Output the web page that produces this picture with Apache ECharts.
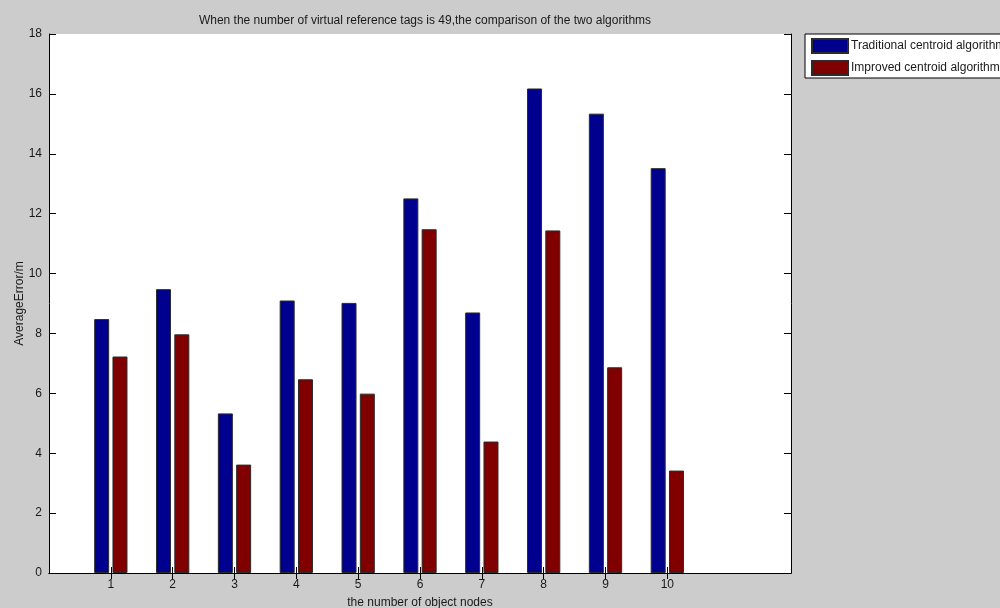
<!DOCTYPE html>
<html>
<head>
<meta charset="utf-8">
<script src="https://cdn.jsdelivr.net/npm/echarts@6/dist/echarts.min.js"></script>
<style>
  html, body { margin: 0; padding: 0; background: #cccccc; }
  #chart { width: 1000px; height: 608px; }
</style>
</head>
<body>
<div id="chart"></div>
<script>
// Object node indices shown on the x axis
const nodeLabels = ['1', '2', '3', '4', '5', '6', '7', '8', '9', '10'];
// Average localisation error (m) for each node
const traditionalError = [8.48, 9.48, 5.33, 9.10, 9.02, 12.51, 8.70, 16.18, 15.34, 13.52];
const improvedError = [7.23, 7.97, 3.62, 6.47, 5.99, 11.48, 4.39, 11.44, 6.87, 3.42];
// Y axis ticks
const yMin = 0, yMax = 18, yStep = 2;

const titleText = 'When the number of virtual reference tags is 49,the comparison of the two algorithms';
const seriesNames = ['Traditional centroid algorithm', 'Improved centroid algorithm'];

// The x axis spans 0..12: one empty slot before node 1 and two after node 10
const axisCats = [''].concat(nodeLabels, ['', '']);
const pad = arr => [null].concat(arr, [null, null]);
const isNode = i => i >= 1 && i <= nodeLabels.length;

const font = 'Liberation Sans, Arial, sans-serif';
const textColor = '#1a1a1a';

const baseX = {
  type: 'category',
  data: axisCats,
  boundaryGap: false,
  axisLine: { show: true, lineStyle: { color: '#000', width: 1 } },
  splitLine: { show: false }
};
const baseY = {
  type: 'value',
  min: yMin, max: yMax, interval: yStep,
  axisLine: { show: true, lineStyle: { color: '#000', width: 1 } },
  splitLine: { show: false }
};

const chart = echarts.init(document.getElementById('chart'), null, { renderer: 'canvas' });
chart.setOption({
  backgroundColor: '#cccccc',
  animation: false,
  title: {
    text: titleText,
    left: 420, textAlign: 'center',
    top: 10,
    textStyle: { fontFamily: font, fontSize: 12, fontWeight: 'normal', color: textColor }
  },
  legend: {
    orient: 'vertical',
    left: 805, top: 34,
    padding: [4, 8, 2, 6],
    itemGap: 6,
    itemWidth: 36, itemHeight: 14,
    backgroundColor: '#ffffff',
    borderColor: '#000', borderWidth: 1,
    icon: 'rect',
    textStyle: { fontFamily: font, fontSize: 12, color: textColor, padding: [0, 0, 0, -2] },
    data: seriesNames
  },
  grid: {
    left: 49, right: 209, top: 34, bottom: 35,
    outerBoundsMode: 'none', containLabel: false,
    show: true, backgroundColor: '#ffffff', borderWidth: 0
  },
  xAxis: [
    Object.assign({}, baseX, {
      position: 'bottom',
      name: 'the number of object nodes',
      nameLocation: 'middle', nameGap: 24, nameMoveOverlap: false,
      nameTextStyle: { fontFamily: font, fontSize: 12, color: textColor },
      axisTick: { show: true, inside: true, length: 6, interval: (i) => isNode(i), lineStyle: { color: '#000' } },
      axisLabel: { interval: (i) => isNode(i), margin: 6, fontFamily: font, fontSize: 12, color: textColor }
    }),
    Object.assign({}, baseX, {
      position: 'top',
      axisTick: { show: true, inside: true, length: 6, interval: (i) => isNode(i), lineStyle: { color: '#000' } },
      axisLabel: { show: false }
    })
  ],
  yAxis: [
    Object.assign({}, baseY, {
      position: 'left',
      name: 'AverageError/m',
      nameLocation: 'middle', nameGap: 23, nameMoveOverlap: false,
      nameTextStyle: { fontFamily: font, fontSize: 12, color: textColor },
      axisTick: { show: true, inside: true, length: 7, lineStyle: { color: '#000' } },
      axisLabel: { margin: 7, fontFamily: font, fontSize: 12, color: textColor }
    }),
    Object.assign({}, baseY, {
      position: 'right',
      axisTick: { show: true, inside: true, length: 7, lineStyle: { color: '#000' } },
      axisLabel: { show: false }
    })
  ],
  series: [
    {
      name: seriesNames[0],
      type: 'bar',
      xAxisIndex: 0, yAxisIndex: 0,
      data: pad(traditionalError),
      barWidth: 15,
      barGap: '22%',
      itemStyle: { color: '#00008f', borderColor: '#2b2b2b', borderWidth: 1 }
    },
    {
      name: seriesNames[1],
      type: 'bar',
      xAxisIndex: 0, yAxisIndex: 0,
      data: pad(improvedError),
      barWidth: 15,
      barGap: '22%',
      itemStyle: { color: '#800000', borderColor: '#2b2b2b', borderWidth: 1 }
    }
  ]
});
</script>
</body>
</html>
